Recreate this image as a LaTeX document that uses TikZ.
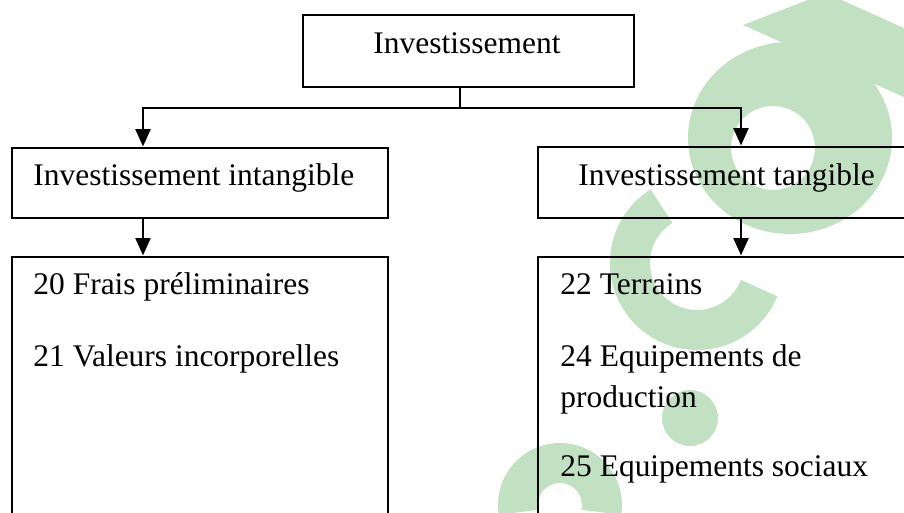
\documentclass[tikz,border=0pt]{standalone}
\usepackage{fontspec}
\setmainfont{Liberation Serif}
\usetikzlibrary{arrows.meta,calc}
\definecolor{wmgreen}{RGB}{194,225,194}

\begin{document}
\begin{tikzpicture}[x=0.75pt,y=-0.75pt,-,>={Triangle[length=13pt,width=11pt]},line width=2.2pt,
    box node/.style={draw,rectangle,inner sep=0pt},
    text node/.style={inner sep=0pt,anchor=base west,font=\fontsize{23.6}{30}\selectfont}]

    \useasboundingbox (0,0) rectangle (904,513);
    \clip (0,0) rectangle (904,513);

    \begin{scope}[wmgreen]
        \fill[even odd rule] (790,138) ellipse [x radius=102,y radius=96] (773,148) circle [radius=42];
        \fill (743,25) -- (826,-7) -- (906,29) -- (906,98) -- cycle;
        \draw[line width=30pt] ($(697,263)+(-122:67)$) arc [start angle=-122,end angle=-338,radius=67];
        \fill (690,418) circle [radius=28];
        \draw[line width=30pt] ($(560,505)+(-190:42)$) arc [start angle=-190,end angle=10,radius=42];
    \end{scope}

    \node[box node,minimum width=248.25pt,minimum height=54pt] (inv) at (468.5,51) {};
    \node[box node,minimum width=282pt,minimum height=52.5pt] (intang) at (200,183) {};
    \node[box node,minimum width=282pt,minimum height=53.25pt] (tang) at (726,182.5) {};
    \node[box node,minimum width=282pt,minimum height=212.25pt] (intlist) at (200,398.5) {};
    \node[box node,minimum width=282pt,minimum height=212.25pt] (tanglist) at (726,398.5) {};

    \node[text node,anchor=base] (t0) at (467,54) {Investissement};
    \node[text node] (t1) at (32,186) {Investissement intangible};
    \node[text node] (t2) at (577,186) {Investissement tangible};

    \node[text node] (a20) at (32,295) {20 Frais préliminaires};
    \node[text node] (a21) at ($(a20.base west)+(0,72)$) {21 Valeurs incorporelles};

    \node[text node] (a22) at (559,295) {22 Terrains};
    \node[text node] (a24) at ($(a22.base west)+(0,72)$) {24 Equipements de};
    \node[text node] (a24b) at ($(a24.base west)+(0,40)$) {production};
    \node[text node] (a25) at ($(a24b.base west)+(0,70)$) {25 Equipements sociaux};

    \coordinate (split) at (460,108);
    \coordinate (jl) at (143,108);
    \coordinate (jr) at (741,108);

    \draw (inv.south -| split) -- (split);
    \draw[->] (split) -- (jl) -- (jl |- intang.north);
    \draw[->] (split) -- (jr) -- (jr |- tang.north);
    \draw[->] (jl |- intang.south) -- (jl |- intlist.north);
    \draw[->] (jr |- tang.south) -- (jr |- tanglist.north);
\end{tikzpicture}
\end{document}
